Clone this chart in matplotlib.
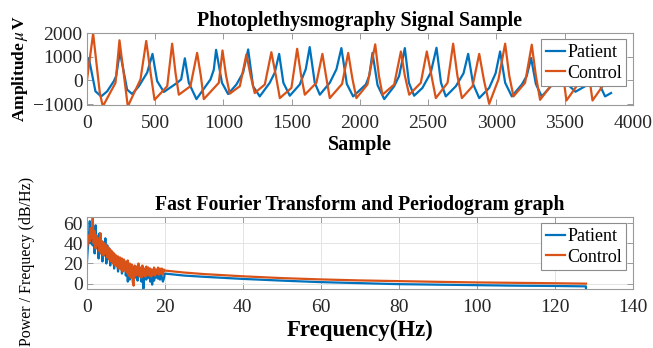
import matplotlib
matplotlib.use("Agg")
import matplotlib.pyplot as plt
import numpy as np

plt.rcParams['font.family'] = ['Liberation Serif', 'DejaVu Serif']
plt.rcParams['mathtext.fontset'] = 'stix'

# ---------------- data: PPG signal keypoints (sample, amplitude) ----------------
patient_s = [0, 15, 63, 105, 149, 198, 215, 242, 295, 332, 381, 442, 481, 515, 564, 662, 691, 718,
             747, 803, 906, 930, 947, 990, 1035, 1096, 1145, 1182, 1218, 1267, 1340, 1377, 1409,
             1440, 1487, 1560, 1604, 1633, 1670, 1707, 1780, 1829, 1865, 1905, 1951, 2044, 2069,
             2093, 2130, 2179, 2252, 2288, 2330, 2360, 2398, 2459, 2520, 2562, 2595, 2630, 2704,
             2760, 2794, 2830, 2875, 2948, 2995, 3028, 3065, 3114, 3187, 3223, 3255, 3290, 3333,
             3400, 3450, 3482, 3520, 3580, 3650, 3690, 3720, 3755, 3797, 3841]
patient_v = [504, 936, -461, -677, -461, -29, 187, 1224, -389, -576, -245, 331, 1123, -29, -490, -101, 43, 936,
             -101, -792, 43, 450, 1296, -100, -576, -173, 331, 1310, -245, -677, -101, 331, 1123,
             -100, -648, -173, 475, 1411, -100, -605, -101, 475, 1368, -150, -677, -173, 187,
             1166, -200, -792, -245, 187, 1368, -100, -648, -317, 331, 1382, -100, -677, -245,
             300, 1123, -150, -749, -317, 300, 1224, -100, -677, -173, 187, 950, -150, -677,
             -250, 300, 1100, -150, -480, -250, 300, 1100, -150, -677, -533]

control_s = [0, 46, 95, 117, 210, 239, 270, 300, 393, 435, 470, 496, 589, 625, 650, 674, 759, 808,
             835, 857, 967, 994, 1020, 1047, 1121, 1169, 1200, 1230, 1304, 1352, 1385, 1414, 1499,
             1541, 1570, 1597, 1682, 1726, 1755, 1780, 1870, 1915, 1945, 1975, 2056, 2113, 2140,
             2166, 2252, 2301, 2330, 2362, 2447, 2491, 2525, 2557, 2643, 2684, 2715, 2748, 2826,
             2875, 2910, 2948, 3016, 3065, 3095, 3126, 3211, 3260, 3290, 3321, 3410, 3460, 3490,
             3514, 3600, 3650, 3680, 3705, 3790, 3840]
control_v = [-29, 1987, -533, -1100, -101, 1700, 300, -1100, 43, 1670, 200, -821, -245, 1555, 300, -605, -245, 1166,
             200, -792, -101, 1267, 200, -562, -245, 1100, 200, -533, -173, 1195, 200, -749, -317,
             1339, 200, -605, -101, 1123, 100, -749, -150, 1163, 100, -749, -173, 1526, 200,
             -605, -173, 1224, 200, -605, -101, 1224, 200, -749, -101, 1555, 200, -749, -245,
             1123, 0, -994, 43, 1555, 200, -677, -101, 1512, 200, -821, -150, 1400, 200,
             -851, -150, 1400, 200, -851, -150, 900]

# ---------------- data: spectrum (Hz, dB/Hz) ----------------
freq_low = [i * 0.25 for i in range(81)]  # 0 .. 20 Hz
patient_low = [20, 35, 45, 62, 40, 50, 38, 55, 30, 58, 35, 45, 25, 50, 30, 42, 22, 40, 28, 45,
               20, 38, 25, 35, 18, 32, 22, 30, 15, 28, 20, 26, 12, 25, 18, 24, 10, 22, 14, 20,
               8, 19, 2, 18, 4, 16, 10, 14, 8, 17, 6, 14, 3, 15, 8, 12, 2, 10, -5, 8,
               12, 4, 13, 6, 10, 2, 12, -1, 11, 3, 10, 6, 12, 5, 10, 4, 11, 6, 2, 5, 10]
control_low = [35, 40, 48, 42, 55, 45, 66, 40, 52, 35, 48, 38, 45, 32, 50, 30, 42, 28, 40, 30,
               38, 26, 36, 24, 34, 22, 32, 20, 30, 18, 28, 17, 27, 15, 26, 14, 25, 12, 24, 13,
               22, 11, 23, 8, 20, 6, 19, 2, -2, 18, 8, 17, 9, 20, 7, 16, 6, 18, 8, 15,
               7, 17, 9, 16, 8, 15, 7, 14, 9, 16, 8, 14, 10, 16, 9, 15, 10, 15, 9, 14, 13]
freq_high = [25, 30, 40, 50, 60, 70, 80, 90, 100, 110, 120, 128]
patient_high = [8, 6.8, 4.7, 3, 1.5, 0.5, -0.5, -1, -1.5, -2, -2.3, -2.7]
control_high = [11, 9.5, 7.3, 5.5, 4.2, 3.2, 2.5, 1.8, 1.2, 0.8, 0.4, 0]
patient_end = -6

blue = '#0072BD'
orange = '#D95319'
edge = '#9a9a9a'
txt = '#262626'

fig = plt.figure(figsize=(6.53, 3.48), dpi=100)
ax1 = fig.add_axes([0.133, 0.698, 0.836, 0.207])
ax2 = fig.add_axes([0.133, 0.169, 0.836, 0.207])

ax1.plot(patient_s, patient_v, color=blue, lw=1.6, label='Patient')
ax1.plot(control_s, control_v, color=orange, lw=1.6, label='Control')
ax1.set_xlim(0, 4000)
ax1.set_ylim(-1045, 2005)
ax1.set_xticks([0, 500, 1000, 1500, 2000, 2500, 3000, 3500, 4000])
ax1.set_yticks([-1000, 0, 1000, 2000])
ax1.set_title('Photoplethysmography Signal Sample', fontsize=14.4, fontweight='bold', pad=5)
ax1.set_xlabel('Sample', fontsize=14.5, fontweight='bold', labelpad=2)
ax1.set_ylabel(r'Amplitude$\,\mu\,$V', fontsize=12.5, fontweight='bold', labelpad=2)

pf = freq_low + freq_high + [128]
pv = patient_low + patient_high + [patient_end]
cf = freq_low + freq_high
cv = control_low + control_high
ax2.plot(pf, pv, color=blue, lw=1.6, label='Patient')
ax2.plot(cf, cv, color=orange, lw=1.6, label='Control')
ax2.set_xlim(0, 140)
ax2.set_ylim(-5.5, 66)
ax2.set_xticks(range(0, 141, 20))
ax2.set_yticks([0, 20, 40, 60])
ax2.grid(True, color='#e4e4e4', lw=0.7)
ax2.set_axisbelow(True)
ax2.set_title('Fast Fourier Transform and Periodogram graph', fontsize=14.2, fontweight='bold', pad=5)
ax2.set_xlabel('Frequency(Hz)', fontsize=16.5, fontweight='bold', labelpad=3)
ax2.set_ylabel('Power / Frequecy (dB/Hz)', fontsize=11.5, labelpad=2)
ax2.yaxis.set_label_coords(-0.095, 0.38)

for ax in (ax1, ax2):
    for sp in ax.spines.values():
        sp.set_color(edge)
        sp.set_linewidth(0.8)
    ax.tick_params(direction='in', length=4, width=0.7, color=edge, labelcolor=txt,
                   labelsize=14, top=True, right=True)
    ax.tick_params(axis='x', pad=7)
    ax.tick_params(axis='y', pad=3)
    leg = ax.legend(loc='upper right', fontsize=13, fancybox=False, framealpha=1,
                    edgecolor='#8c8c8c', handlelength=1.1, handletextpad=0.1,
                    borderpad=0.25, labelspacing=0.2, borderaxespad=0.35)
    leg.get_frame().set_linewidth(0.8)

fig.savefig('out.png', dpi=100)
